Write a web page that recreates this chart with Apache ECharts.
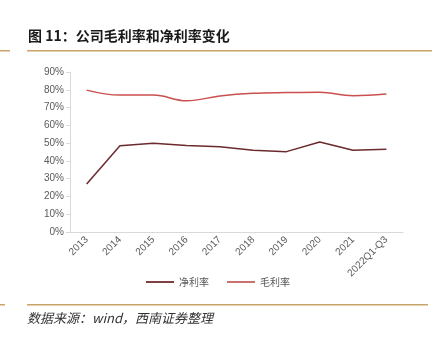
<!DOCTYPE html>
<html><head><meta charset="utf-8">
<script src="https://cdn.jsdelivr.net/npm/echarts@6/dist/echarts.min.js"></script>
<style>html,body{margin:0;padding:0;background:#fff}#c{width:436px;height:337px}</style>
</head><body><div id="c"></div>
<script>
const categories = ['2013','2014','2015','2016','2017','2018','2019','2020','2021','2022Q1-Q3'];
const netMargin = [27.0, 48.5, 49.9, 48.7, 48.0, 46.0, 45.2, 50.6, 46.0, 46.5];
const grossMargin = [79.8, 77.0, 77.0, 73.8, 76.5, 78.0, 78.4, 78.6, 76.7, 77.6];
const titleText = '图 11：公司毛利率和净利率变化';
const sourceText = '数据来源：wind，西南证券整理';

const chart = echarts.init(document.getElementById('c'));
chart.setOption({
  animation: false,
  grid: {left: 70, right: 33, top: 72, bottom: 105},
  xAxis: {
    type: 'category', data: categories, boundaryGap: true,
    axisLine: {lineStyle: {color: '#d9d9d9'}},
    axisTick: {show: false},
    axisLabel: {rotate: 45, color: '#595959', fontSize: 10, fontFamily: 'Liberation Sans', margin: 6, interval: 0}
  },
  yAxis: {
    type: 'value', min: 0, max: 90, interval: 10,
    axisLine: {show: true, lineStyle: {color: '#d9d9d9'}},
    axisTick: {show: true, length: 4, lineStyle: {color: '#d9d9d9'}},
    splitLine: {show: false},
    axisLabel: {formatter: '{value}%', color: '#595959', fontSize: 10, fontFamily: 'Liberation Sans', margin: 6}
  },
  legend: {
    bottom: 45, left: 'center', itemWidth: 28, itemHeight: 2, itemGap: 18,
    icon: 'rect',
    textStyle: {color: '#595959', fontSize: 10, fontFamily: 'Noto Sans CJK SC'},
    data: ['净利率','毛利率']
  },
  series: [
    {name: '净利率', type: 'line', data: netMargin, symbol: 'none', lineStyle: {color: '#6B2A2E', width: 1.5}, itemStyle: {color: '#7F3F43'}},
    {name: '毛利率', type: 'line', data: grossMargin, symbol: 'none', smooth: 0.4, lineStyle: {color: '#C9504E', width: 1.5}, itemStyle: {color: '#C97270'}}
  ],
  graphic: [
    {type: 'text', left: 28, top: 29, style: {text: titleText, font: 'bold 14px "Noto Sans CJK SC"', fill: '#1a1a1a'}},
    {type: 'rect', shape: {x: 27, y: 50, width: 405, height: 1.5}, style: {fill: '#C8A46A'}},
    {type: 'rect', shape: {x: 0, y: 50, width: 10, height: 1.5}, style: {fill: '#C8A46A'}},
    {type: 'rect', shape: {x: 27, y: 304, width: 401, height: 1.5}, style: {fill: '#C8A46A'}},
    {type: 'rect', shape: {x: 0, y: 304, width: 5, height: 1.5}, style: {fill: '#C8A46A'}},
    {type: 'text', left: 27, top: 312, style: {text: sourceText, font: 'italic 13px "Noto Sans CJK SC"', fill: '#333'}}
  ]
});
</script></body></html>
